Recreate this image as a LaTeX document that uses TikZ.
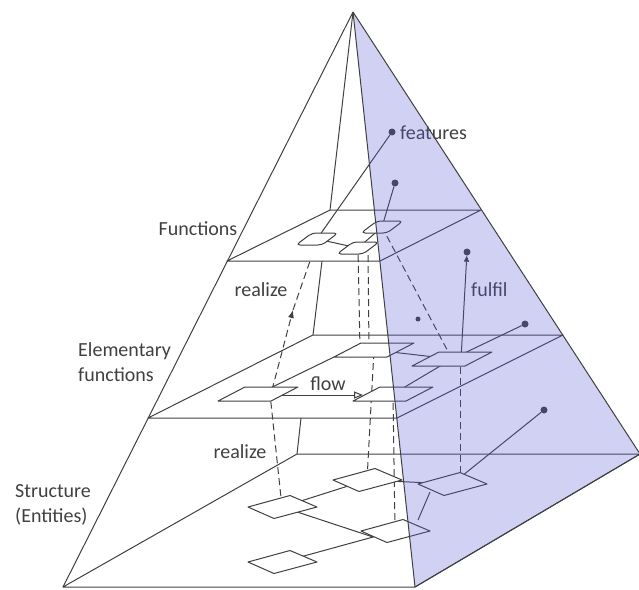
\documentclass[tikz,border=0pt]{standalone}
\usepackage{fontspec}
\setmainfont{Carlito}
\usetikzlibrary{arrows.meta}

\definecolor{edgegray}{RGB}{64,64,64}
\definecolor{facetint}{RGB}{90,90,215}

\begin{document}
\begin{tikzpicture}[
    x=1pt, y=-1pt,
    edge/.style={draw=edgegray, line width=1pt, line join=round},
    plate/.style={draw=edgegray, fill=white, line width=1pt, line join=round},
    link/.style={draw=edgegray, line width=1pt},
    realize/.style={draw=edgegray, line width=1pt, dash pattern=on 7pt off 4pt},
    flowarrow/.style={link, -{Triangle[open, length=9pt, width=7pt]}},
    dot/.style={circle, fill=edgegray, inner sep=0pt, minimum size=7pt},
    lbl/.style={inner sep=0pt, text=edgegray, font=\fontsize{20}{25}\selectfont},
    splate/.pic={\path[plate] (-34,0) -- (8,-11.5) -- (35,0) -- (-8,11.5) -- cycle;},
    eplate/.pic={\path[plate] (-40,7) -- (13,7) -- (40,-7) -- (-13,-7) -- cycle;},
    fplate/.pic={\path[plate, rounded corners=4pt] (-21,6) -- (5,6) -- (21,-6) -- (-5,-6) -- cycle;}
]
\useasboundingbox (0,0) rectangle (639,589);

% Pyramid corners
\coordinate (apex) at (353,12);
\coordinate (bfl) at (63,587);
\coordinate (bfr) at (415,587);
\coordinate (bbr) at (640,454);
\coordinate (bbl) at (297,454);

% Level planes
\coordinate (efl) at (148,418);
\coordinate (efr) at (397,418);
\coordinate (ebr) at (563,335);
\coordinate (ebl) at (313,335);
\coordinate (ffl) at (227,261);
\coordinate (ffr) at (380,261);
\coordinate (fbr) at (481,210);
\coordinate (fbl) at (330,210);
\coordinate (fout) at (322,261);
\coordinate (eout) at (301,418);

% Functions, elementary functions, entities
\coordinate (f1) at (317,239);
\coordinate (f2) at (358,248);
\coordinate (f3) at (382,227);
\coordinate (e1) at (258,394);
\coordinate (e2) at (393,394);
\coordinate (e3) at (374,350);
\coordinate (e4) at (452,359);
\coordinate (s1) at (282,507);
\coordinate (s2) at (367,480);
\coordinate (s3) at (395,531);
\coordinate (s4) at (282,562);
\coordinate (s5) at (452,484);
\coordinate (up1) at (293,310);
\coordinate (ftop) at (310,261);

\draw[edge] (ffl) -- (ffr) -- (fbr) -- (fbl) -- cycle;
\draw[edge] (efl) -- (efr) -- (ebr) -- (ebl) -- cycle;
\draw[edge] (bfl) -- (bfr) -- (bbr) -- (bbl) -- cycle;
\draw[edge] (apex) -- (bfl);
\draw[edge] (apex) -- (fbl);
\draw[edge] (fout) -- (ebl);
\draw[edge] (eout) -- (bbl);

% Dots
\node[dot] (feat) at (392,132) {};
\node[dot] (feat2) at (395,183) {};
\node[dot] (ful) at (467,252) {};
\node[dot, minimum size=5pt] (loose) at (418,319) {};
\node[dot] (edot) at (525,324) {};
\node[dot] (sdot) at (544,410) {};

% Links inside the levels
\draw[link] (f1) -- (f2);
\draw[link] (f2) -- (f3);
\draw[link] (feat) -- (f1);
\draw[link] (feat2) -- (f3);
\draw[link] (e1) -- ([shift={(-40,7)}]e3);
\draw[link] (e3) -- (e4);
\draw[link] (e4) -- (e2);
\draw[link] (e4) -- (edot);
\draw[link, -{Triangle[length=6pt, width=5pt]}] ([shift={(9,0)}]e4) -- (ful);
\draw[flowarrow] ([shift={(20,1)}]e1) -- ([shift={(-30,1)}]e2);
\draw[link] (s1) -- (s2);
\draw[link] (s1) -- ([shift={(-22,6)}]s3);
\draw[link] (s4) -- (s3);
\draw[link] (s2) -- (s5);
\draw[link] ([shift={(23,-11)}]s3) -- ([shift={(-22,8)}]s5);
\draw[link] (s5) -- (sdot);

% Realize relations
\draw[realize] (s1) -- ([shift={(12,0)}]e1);
\draw[realize, -{Latex[length=8pt, width=6pt]}] ([shift={(14,-4)}]e1) -- (up1);
\draw[realize] (up1) -- (ftop);
\draw[realize] (s2) -- (e3);
\draw[realize] (s3) -- (e2);
\draw[realize] ([shift={(-14,0)}]e3) -- (f2);
\draw[realize] ([shift={(-5,0)}]e3) -- ([shift={(10,3)}]f2);
\draw[realize] (e4) -- (f3);
\draw[realize] ([shift={(8,0)}]s5) -- ([shift={(8,0)}]e4);

% Plates
\pic at (f1) {fplate};
\pic at (f2) {fplate};
\pic at (f3) {fplate};
\pic at (e1) {eplate};
\pic at (e2) {eplate};
\pic at (e3) {eplate};
\pic at (e4) {eplate};
\pic at (s1) {splate};
\pic at (s2) {splate};
\pic at (s3) {splate};
\pic at (s4) {splate};
\pic at (s5) {splate};

% Labels
\node[lbl] (funcs) at (198,229) {Functions};
\node[lbl] (real1) at (261,290) {realize};
\node[lbl, align=left, anchor=west] (elem) at (78,362) {Elementary\\functions};
\node[lbl] (flowlbl) at (328,384) {flow};
\node[lbl] (real2) at (240,452) {realize};
\node[lbl, align=left, anchor=west] (struct) at (15,505) {Structure\\(Entities)};
\node[lbl, anchor=west] (featlbl) at (400,133) {features};
\node[lbl, anchor=west] (fullbl) at (471,290) {fulfil};

% Shaded side face
\fill[facetint, fill opacity=0.28] (apex) -- (bfr) -- (bbr) -- cycle;
\draw[edge] (apex) -- (bfr);
\draw[edge] (apex) -- (bbr);
\draw[edge] (bfr) -- (bbr);
\end{tikzpicture}
\end{document}
